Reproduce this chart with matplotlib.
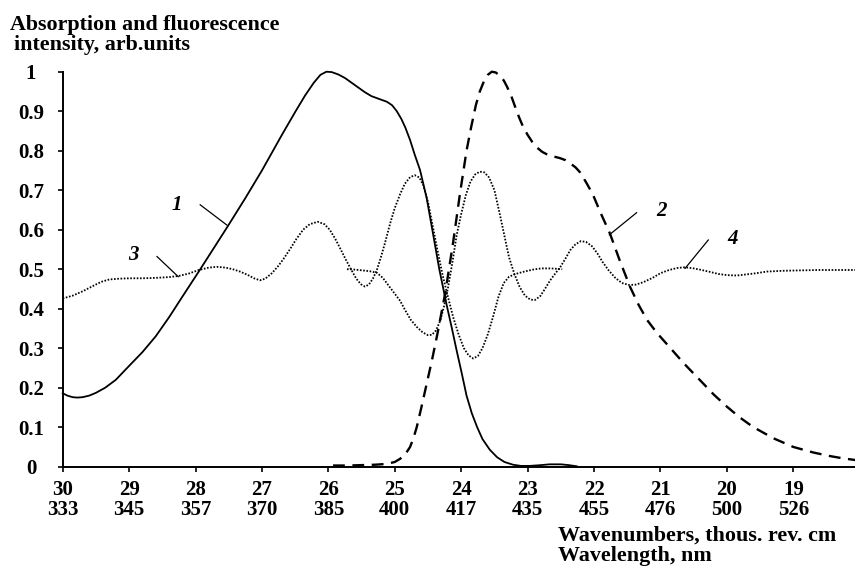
import matplotlib
matplotlib.use("Agg")
import matplotlib.pyplot as plt
from matplotlib.ticker import FixedLocator, FixedFormatter

# ---------------- data ----------------
wavenumbers = [30, 29, 28, 27, 26, 25, 24, 23, 22, 21, 20, 19]
wavelengths = [333, 345, 357, 370, 385, 400, 417, 435, 455, 476, 500, 526]
y_ticks = [0, 0.1, 0.2, 0.3, 0.4, 0.5, 0.6, 0.7, 0.8, 0.9, 1.0]
y_tick_labels = ["0", "0.1", "0.2", "0.3", "0.4", "0.5", "0.6", "0.7", "0.8", "0.9", "1"]

# curve 1: absorption (solid)
c1_x = [30.00, 29.93, 29.85, 29.78, 29.70, 29.60, 29.50, 29.36, 29.20, 28.99,
        28.80, 28.60, 28.40, 28.20, 27.94, 27.70, 27.51, 27.25, 27.00, 26.85,
        26.70, 26.50, 26.35, 26.22, 26.12, 26.03, 25.95, 25.85, 25.75, 25.65,
        25.55, 25.45, 25.35, 25.22, 25.12, 25.04, 24.97, 24.90, 24.84, 24.77,
        24.70, 24.62, 24.52, 24.43, 24.33, 24.22, 24.14, 24.07, 23.99, 23.92,
        23.84, 23.76, 23.68, 23.57, 23.46, 23.35, 23.22, 23.10, 22.97, 22.80,
        22.67, 22.50, 22.38, 22.26]
c1_y = [0.186, 0.180, 0.176, 0.175, 0.176, 0.180, 0.187, 0.200, 0.220, 0.257,
        0.290, 0.330, 0.378, 0.430, 0.497, 0.560, 0.610, 0.680, 0.750, 0.795,
        0.840, 0.898, 0.940, 0.972, 0.992, 1.000, 0.999, 0.993, 0.984, 0.972,
        0.960, 0.948, 0.938, 0.930, 0.924, 0.915, 0.900, 0.880, 0.858, 0.827,
        0.790, 0.751, 0.680, 0.595, 0.500, 0.410, 0.350, 0.295, 0.235, 0.180,
        0.135, 0.100, 0.070, 0.043, 0.024, 0.012, 0.005, 0.002, 0.002, 0.004,
        0.006, 0.006, 0.004, 0.001]

# curve 2: fluorescence (dashed)
c2_x = [25.93, 25.70, 25.50, 25.30, 25.12, 25.00, 24.92, 24.84, 24.77, 24.72,
        24.67, 24.60, 24.52, 24.44, 24.36, 24.24, 24.12, 24.02, 23.92, 23.85,
        23.78, 23.72, 23.66, 23.60, 23.54, 23.48, 23.42, 23.36, 23.31, 23.25,
        23.19, 23.13, 23.07, 23.00, 22.93, 22.86, 22.78, 22.69, 22.60, 22.51,
        22.43, 22.36, 22.28, 22.21, 22.12, 22.02, 21.90, 21.76, 21.62, 21.46,
        21.33, 21.20, 21.05, 20.86, 20.65, 20.41, 20.20, 20.00, 19.80, 19.61,
        19.30, 19.00, 18.70, 18.45, 18.25, 18.07]
c2_y = [0.003, 0.003, 0.004, 0.005, 0.007, 0.012, 0.020, 0.032, 0.050, 0.072,
        0.100, 0.150, 0.210, 0.270, 0.335, 0.440, 0.570, 0.690, 0.800, 0.860,
        0.915, 0.950, 0.975, 0.992, 1.000, 0.998, 0.990, 0.978, 0.962, 0.940,
        0.912, 0.885, 0.861, 0.840, 0.822, 0.808, 0.797, 0.789, 0.785, 0.781,
        0.776, 0.768, 0.758, 0.745, 0.720, 0.690, 0.642, 0.590, 0.525, 0.456,
        0.410, 0.371, 0.338, 0.302, 0.262, 0.220, 0.183, 0.152, 0.124, 0.101,
        0.072, 0.050, 0.036, 0.027, 0.021, 0.017]

# curve 3 (dotted)
c3_x = [30.00, 29.85, 29.70, 29.55, 29.42, 29.30, 29.15, 28.99, 28.80, 28.60,
        28.40, 28.25, 28.10, 27.95, 27.80, 27.68, 27.55, 27.44, 27.33, 27.22,
        27.12, 27.03, 26.95, 26.85, 26.76, 26.68, 26.58, 26.48, 26.38, 26.28,
        26.16, 26.06, 25.98, 25.90, 25.82, 25.74, 25.66, 25.58, 25.51, 25.45,
        25.39, 25.33, 25.27, 25.21, 25.15, 25.07, 25.00, 24.92, 24.85, 24.77,
        24.70, 24.63, 24.57, 24.50, 24.43, 24.36, 24.28, 24.20, 24.12, 24.04,
        23.96, 23.89, 23.82, 23.75, 23.68, 23.60, 23.52, 23.44, 23.36, 23.28,
        23.18, 23.05, 22.92, 22.80, 22.65, 22.48]
c3_y = [0.426, 0.433, 0.444, 0.457, 0.468, 0.474, 0.476, 0.477, 0.477, 0.478,
        0.480, 0.483, 0.489, 0.498, 0.504, 0.506, 0.504, 0.500, 0.494, 0.486,
        0.477, 0.472, 0.476, 0.490, 0.507, 0.525, 0.550, 0.577, 0.600, 0.614,
        0.620, 0.614, 0.600, 0.578, 0.552, 0.525, 0.500, 0.476, 0.462, 0.456,
        0.461, 0.476, 0.498, 0.530, 0.565, 0.616, 0.655, 0.690, 0.716, 0.733,
        0.738, 0.732, 0.712, 0.670, 0.610, 0.550, 0.485, 0.430, 0.378, 0.335,
        0.300, 0.282, 0.274, 0.280, 0.300, 0.335, 0.380, 0.430, 0.465, 0.481,
        0.488, 0.494, 0.499, 0.502, 0.502, 0.500]

# curve 4 (dotted)
c4_x = [25.72, 25.60, 25.49, 25.38, 25.27, 25.18, 25.10, 25.01, 24.92, 24.84,
        24.76, 24.67, 24.58, 24.50, 24.44, 24.38, 24.32, 24.26, 24.20, 24.13,
        24.07, 24.00, 23.93, 23.86, 23.79, 23.72, 23.65, 23.58, 23.50, 23.42,
        23.35, 23.28, 23.20, 23.12, 23.04, 22.96, 22.89, 22.81, 22.74, 22.66,
        22.58, 22.51, 22.43, 22.36, 22.28, 22.20, 22.12, 22.03, 21.95, 21.87,
        21.78, 21.68, 21.58, 21.47, 21.37, 21.26, 21.12, 21.00, 20.87, 20.75,
        20.63, 20.50, 20.38, 20.25, 20.13, 20.00, 19.85, 19.70, 19.55, 19.40,
        19.15, 18.90, 18.60, 18.30, 18.07]
c4_y = [0.500, 0.499, 0.497, 0.495, 0.491, 0.478, 0.460, 0.440, 0.420, 0.395,
        0.372, 0.354, 0.340, 0.333, 0.334, 0.345, 0.368, 0.405, 0.452, 0.520,
        0.585, 0.640, 0.688, 0.722, 0.740, 0.747, 0.745, 0.732, 0.700, 0.640,
        0.585, 0.530, 0.488, 0.455, 0.433, 0.423, 0.422, 0.432, 0.450, 0.472,
        0.490, 0.505, 0.527, 0.548, 0.563, 0.571, 0.569, 0.558, 0.540, 0.518,
        0.497, 0.478, 0.465, 0.460, 0.461, 0.467, 0.478, 0.490, 0.498, 0.503,
        0.505, 0.502, 0.498, 0.493, 0.488, 0.485, 0.484, 0.487, 0.490, 0.494,
        0.496, 0.497, 0.498, 0.498, 0.498]

# curve labels with leader lines
curve_labels = ["1", "2", "3", "4"]
label_pos = [(28.28, 0.663), (20.98, 0.648), (28.94, 0.536), (19.91, 0.576)]
leader_from = [(27.93, 0.663), (21.36, 0.643), (28.58, 0.532), (20.28, 0.574)]
leader_to = [(27.53, 0.612), (21.77, 0.587), (28.26, 0.481), (20.63, 0.502)]

# ---------------- figure ----------------
serif = ["Liberation Serif", "DejaVu Serif"]
plt.rcParams["font.family"] = serif

W, H = 855, 569
fig = plt.figure(figsize=(W / 100, H / 100), dpi=100)
x0_px, y0_px, y1_px = 62.7, 466.7, 71.7
ax = fig.add_axes([x0_px / W, 1 - y0_px / H, 1 - x0_px / W, (y0_px - y1_px) / H])

ax.plot(c1_x, c1_y, color="black", lw=1.3, ls="-", clip_on=False)
ax.plot(c2_x, c2_y, color="black", lw=1.7, ls=(0, (5, 3.2)), clip_on=False)
ax.plot(c3_x, c3_y, color="black", lw=1.3, ls=(0, (0.9, 0.9)), clip_on=False)
ax.plot(c4_x, c4_y, color="black", lw=1.3, ls=(0, (0.9, 0.9)), clip_on=False)

for t, (lx, ly), (fx, fy), (tx, ty) in zip(curve_labels, label_pos, leader_from, leader_to):
    ax.text(lx, ly, t, fontsize=15, fontweight="bold", fontstyle="italic",
            ha="center", va="center")
    ax.plot([fx, tx], [fy, ty], color="black", lw=0.9, clip_on=False)

ax.set_xlim(30, 30 - (W - x0_px) / 66.42)
ax.set_ylim(0, 1)

for s in ["top", "right"]:
    ax.spines[s].set_visible(False)
for s in ["left", "bottom"]:
    ax.spines[s].set_linewidth(1.4)

ax.xaxis.set_major_locator(FixedLocator(wavenumbers))
ax.xaxis.set_major_formatter(FixedFormatter([f"{a}\n{b}" for a, b in zip(wavenumbers, wavelengths)]))
ax.yaxis.set_major_locator(FixedLocator(y_ticks))
ax.yaxis.set_major_formatter(FixedFormatter(y_tick_labels))

ax.tick_params(axis="both", direction="out", length=3.6, width=1.2, labelsize=15)
ax.tick_params(axis="y", pad=19.2)
ax.tick_params(axis="x", pad=6)
for lab in ax.get_yticklabels():
    lab.set_ha("center")
    lab.set_fontweight("bold")
for lab in ax.get_xticklabels():
    lab.set_fontweight("bold")
    lab.set_linespacing(1.0)

fig.text(10 / W, 1 - 25 / H, "Absorption and fluorescence", fontsize=15.8,
         fontweight="bold", ha="left", va="center")
fig.text(14 / W, 1 - 45 / H, "intensity, arb.units", fontsize=15.8,
         fontweight="bold", ha="left", va="center")
fig.text(558 / W, 1 - 536 / H, "Wavenumbers, thous. rev. cm", fontsize=15.8,
         fontweight="bold", ha="left", va="center")
fig.text(558 / W, 1 - 556 / H, "Wavelength, nm", fontsize=15.8,
         fontweight="bold", ha="left", va="center")

fig.savefig("out.png", dpi=100)
